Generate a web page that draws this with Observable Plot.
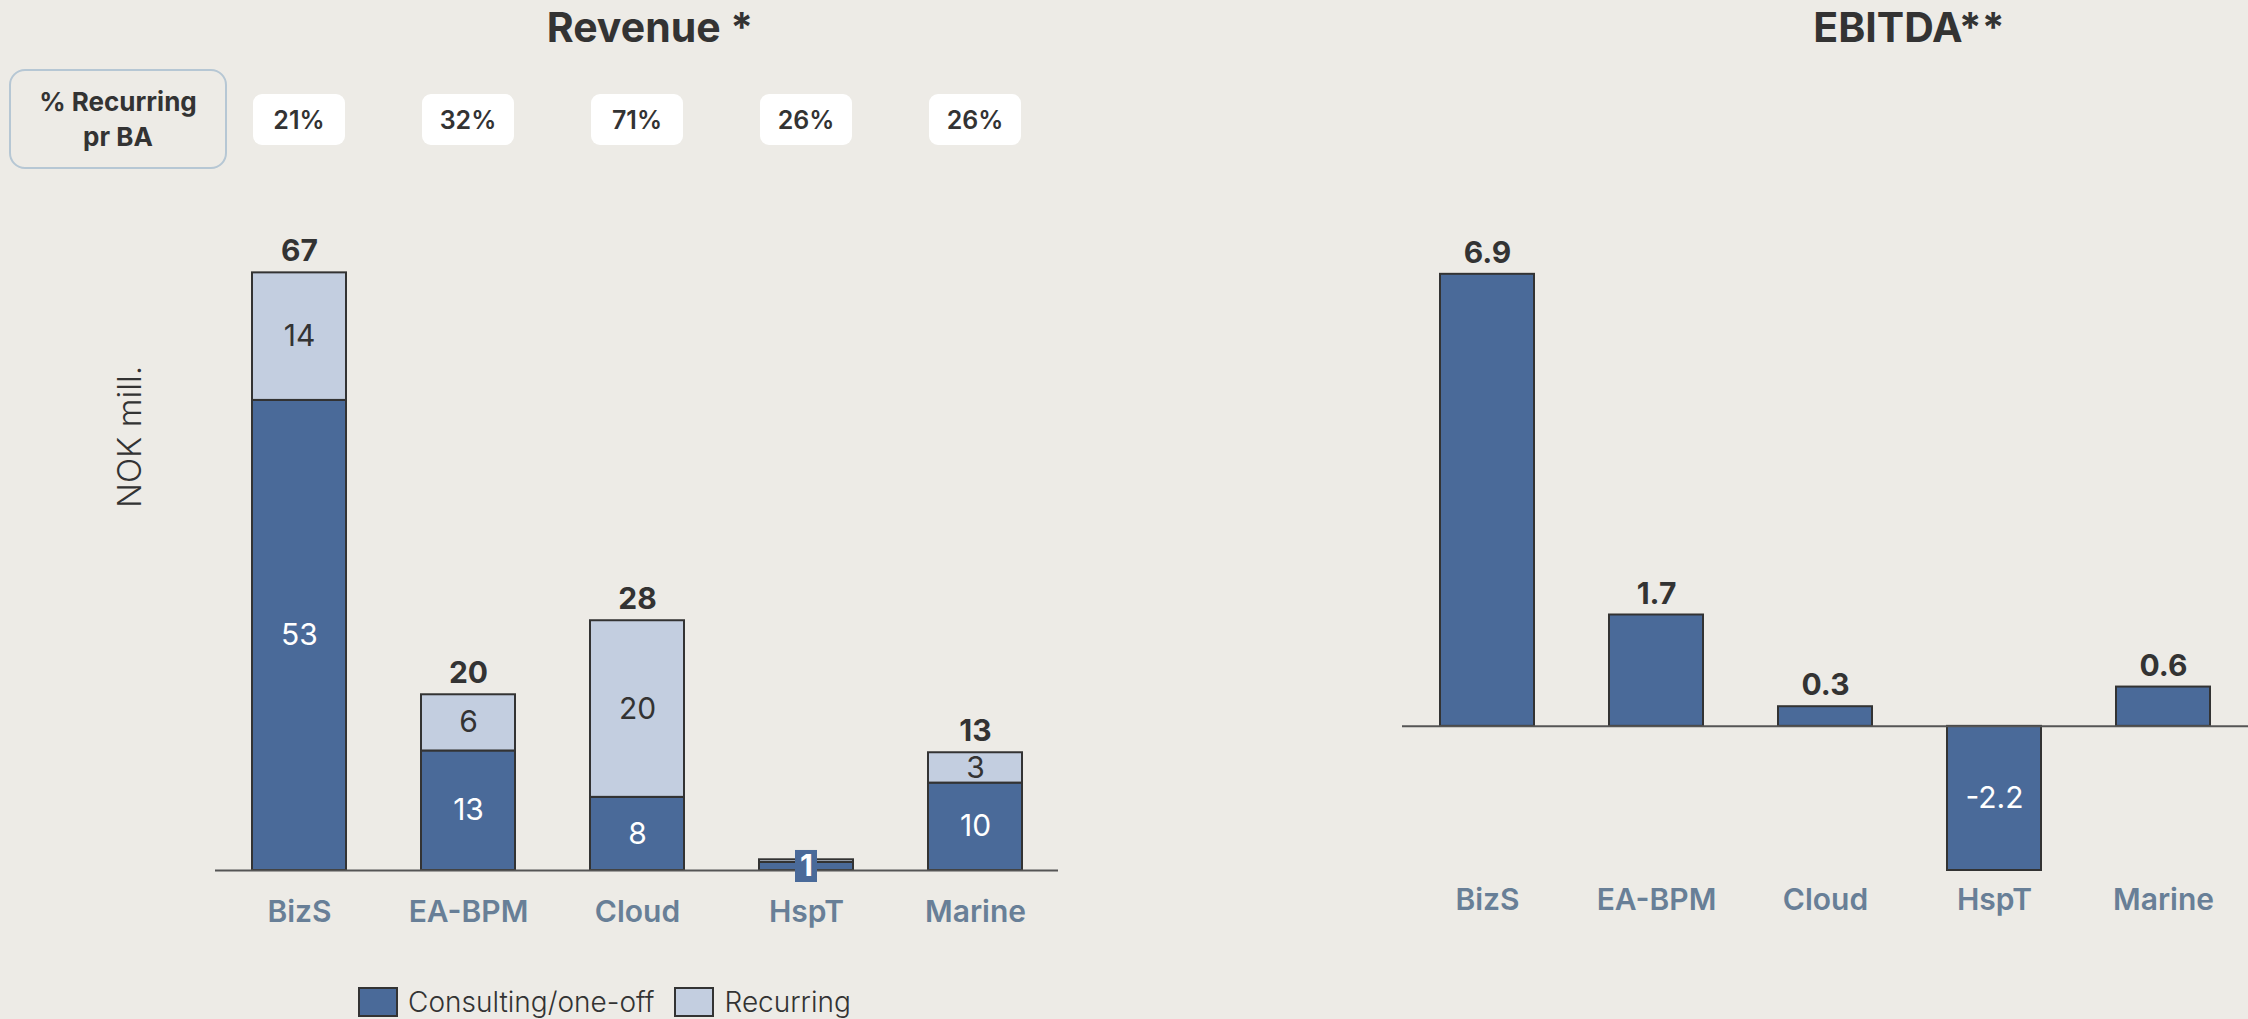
<!DOCTYPE html>
<html>
<head>
<meta charset="utf-8">
<script src="https://cdn.jsdelivr.net/npm/d3@7"></script>
<script src="https://cdn.jsdelivr.net/npm/@observablehq/plot@0.6"></script>
<style>
  html, body { margin: 0; padding: 0; background: #edebe6; }
  body { font-family: Inter, "Noto Sans", sans-serif; color: #333; }
  #root { position: relative; width: 2248px; height: 1019px; overflow: hidden; background: #edebe6; }
  .title { position: absolute; top: 0; width: 500px; text-align: center; font-size: 41px; font-weight: 700; line-height: 54px; color: #333; }
  .hdr { position: absolute; left: 9px; top: 69px; width: 218px; height: 100px; box-sizing: border-box;
         border: 2.5px solid #b6c7d4; border-radius: 16px; display: flex; align-items: center; justify-content: center;
         text-align: center; font-size: 26px; font-weight: 700; line-height: 35px; color: #333; }
  .pct { position: absolute; top: 94px; width: 92px; height: 51px; background: #fff; border-radius: 9px;
         display: flex; align-items: center; justify-content: center; font-size: 25px; font-weight: 600; color: #333; }
  .plot { position: absolute; top: 150px; }
  .plot svg { max-width: none !important; overflow: visible; }
  .legend { position: absolute; top: 987px; left: 358px; display: flex; align-items: center; font-size: 28px; font-weight: 300; color: #333; }
  .sw { width: 40px; height: 30px; box-sizing: border-box; border: 2px solid #333; margin-right: 10px; }
  .legend span { margin-right: 20px; line-height: 30px; }
</style>
</head>
<body>
<div id="root"></div>
<script>
// ---------- data ----------
const categories = ["BizS", "EA-BPM", "Cloud", "HspT", "Marine"];
const consulting = [52.7, 13.4, 8.2, 0.9, 9.8];     // NOK mill.
const recurring  = [14.3, 6.3, 19.8, 0.3, 3.4];     // NOK mill.
const recurringPct = [21, 32, 71, 26, 26];          // % recurring per BA
const ebitda = [6.9, 1.7, 0.3, -2.2, 0.6];           // NOK mill.
const seriesNames = ["Consulting/one-off", "Recurring"];
const seriesColors = ["#4a6a99", "#c3cee0"];
const yLabel = "NOK mill.";

// ---------- derived tables ----------
const revData = categories.flatMap((c, i) => [
  {cat: c, type: seriesNames[0], value: consulting[i]},
  {cat: c, type: seriesNames[1], value: recurring[i]}
]);
const totals = categories.map((c, i) => ({cat: c, total: consulting[i] + recurring[i]}));
const ebitdaData = categories.map((c, i) => ({cat: c, value: ebitda[i]}));
const locale = d3.formatLocale({decimal: ".", thousands: ",", grouping: [3], currency: ["", ""], minus: "-"});
const fmt0 = locale.format(".0f");
const fmt1 = locale.format(".1f");
const smallBar = revData.filter(d => d.cat === "HspT" && d.type === seriesNames[0]);

const root = document.getElementById("root");

// titles
const t1 = document.createElement("div");
t1.className = "title"; t1.style.left = "400px"; t1.textContent = "Revenue *";
root.appendChild(t1);
const t2 = document.createElement("div");
t2.className = "title"; t2.style.left = "1659px"; t2.textContent = "EBITDA**";
root.appendChild(t2);

// header box
const hdr = document.createElement("div");
hdr.className = "hdr"; hdr.innerHTML = "% Recurring<br>pr BA";
root.appendChild(hdr);

const xOpts = {domain: categories, paddingInner: 0.444, paddingOuter: 0.216, axis: null};
const darkBlue = seriesColors[0];

// ---------- left chart: revenue ----------
const left = Plot.plot({
  width: 1100, height: 800,
  marginLeft: 215, marginRight: 42, marginTop: 51, marginBottom: 80,
  style: {background: "transparent", fontFamily: "Inter, sans-serif", overflow: "visible"},
  x: xOpts,
  y: {domain: [0, 75], axis: null},
  color: {domain: seriesNames, range: seriesColors},
  marks: [
    Plot.barY(revData, {x: "cat", y: "value", fill: "type", stroke: "#333", strokeWidth: 2}),
    Plot.ruleY([0], {stroke: "#555", strokeWidth: 2}),
    Plot.axisX({tickSize: 0, tickPadding: 30, fontSize: 30, fontWeight: 600, color: "#687f97", label: null}),
    // segment labels (not on tiny HspT bar)
    Plot.text(revData, Plot.stackY({
      x: "cat", y: "value", z: "type",
      text: d => (d.cat === "HspT") ? null : fmt0(d.value),
      fill: d => d.type === seriesNames[0] ? "#ffffff" : "#333333",
      fontSize: 30, fontWeight: 400
    })),
    // HspT label box
    Plot.barY(smallBar, Plot.stackY({
      x: "cat", y: "value", fill: darkBlue,
      insetLeft: 36, insetRight: 36, insetTop: -12, insetBottom: -12
    })),
    Plot.text(smallBar, Plot.stackY({
      x: "cat", y: "value", text: d => fmt0(d.value),
      fill: "#ffffff", fontSize: 30, fontWeight: 700
    })),
    // totals
    Plot.text(totals, {
      x: "cat", y: "total",
      text: d => d.total >= 2 ? fmt0(d.total) : null,
      dy: -21, fontSize: 30, fontWeight: 700, fill: "#333"
    }),
    // y label
    Plot.text([yLabel], {
      frameAnchor: "left", text: d => d, rotate: -90, dx: -85, dy: -28,
      fontSize: 33, fontWeight: 300, fill: "#333"
    })
  ]
});
const leftWrap = document.createElement("div");
leftWrap.className = "plot"; leftWrap.style.left = "0px";
leftWrap.appendChild(left);
root.appendChild(leftWrap);

// % recurring boxes positioned with the plot's x scale
const xs = left.scale("x");
categories.forEach((c, i) => {
  const cx = xs.apply(c) + xs.bandwidth / 2;
  const b = document.createElement("div");
  b.className = "pct";
  b.style.left = (cx - 46) + "px";
  b.textContent = recurringPct[i] + "%";
  root.appendChild(b);
});

// ---------- right chart: EBITDA ----------
const right = Plot.plot({
  width: 1098, height: 800,
  marginLeft: 252, marginRight: 0, marginTop: 19, marginBottom: 80,
  style: {background: "transparent", fontFamily: "Inter, sans-serif", overflow: "visible"},
  x: xOpts,
  y: {domain: [-2.2, 8.5], axis: null},
  marks: [
    Plot.barY(ebitdaData, {x: "cat", y: "value", fill: darkBlue, stroke: "#333", strokeWidth: 2}),
    Plot.ruleY([0], {stroke: "#555", strokeWidth: 2}),
    Plot.axisX({tickSize: 0, tickPadding: 18, fontSize: 30, fontWeight: 600, color: "#687f97", label: null}),
    Plot.text(ebitdaData.filter(d => d.value >= 0), {
      x: "cat", y: "value", text: d => fmt1(d.value),
      dy: -21, fontSize: 30, fontWeight: 700, fill: "#333"
    }),
    Plot.text(ebitdaData.filter(d => d.value < 0), {
      x: "cat", y: d => d.value / 2, text: d => fmt1(d.value),
      fontSize: 30, fontWeight: 400, fill: "#ffffff"
    })
  ]
});
const rightWrap = document.createElement("div");
rightWrap.className = "plot"; rightWrap.style.left = "1150px";
rightWrap.appendChild(right);
root.appendChild(rightWrap);

// ---------- legend ----------
const lg = document.createElement("div");
lg.className = "legend";
seriesNames.forEach((n, i) => {
  const sw = document.createElement("div");
  sw.className = "sw"; sw.style.background = seriesColors[i];
  const sp = document.createElement("span");
  sp.textContent = n;
  lg.appendChild(sw); lg.appendChild(sp);
});
root.appendChild(lg);
</script>
</body>
</html>
